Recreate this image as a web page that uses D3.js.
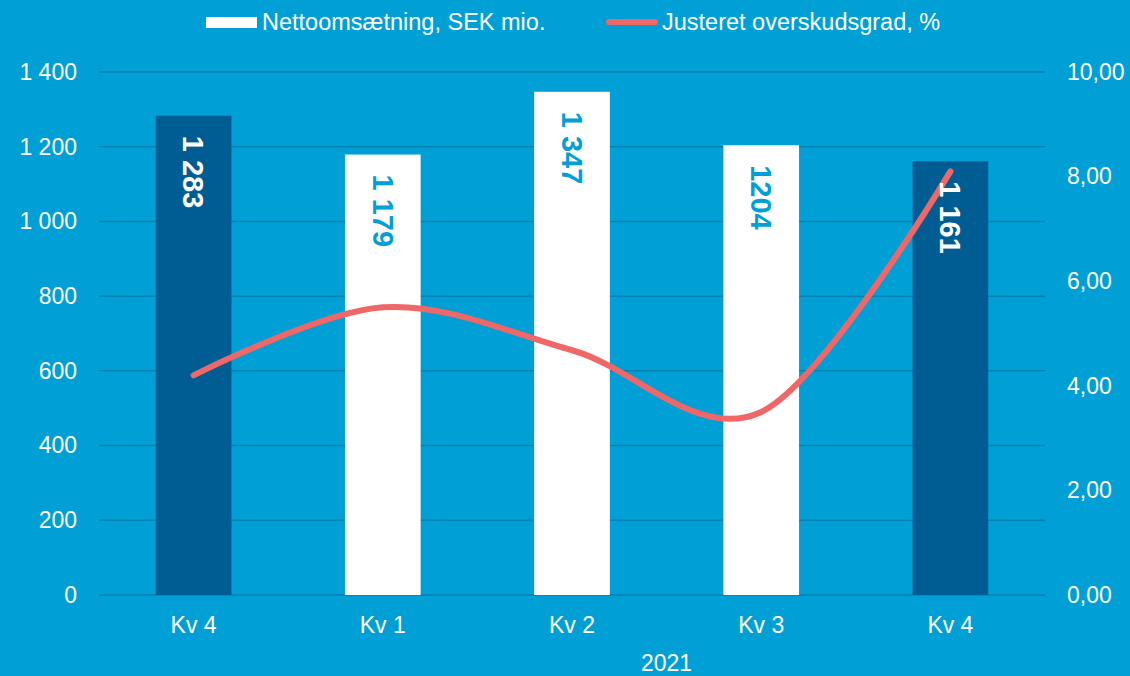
<!DOCTYPE html>
<html>
<head>
<meta charset="utf-8">
<script src="https://cdn.jsdelivr.net/npm/d3@7"></script>
<style>
  body { margin: 0; background: #00A0D6; }
  svg { display: block; font-family: "Liberation Sans", Arial, sans-serif; }
</style>
</head>
<body>
<div class="chart"></div>
<script>
// data
var quarters = ["Kv 4", "Kv 1", "Kv 2", "Kv 3", "Kv 4"];
var sales = [1283, 1179, 1347, 1204, 1161];
var salesLabels = ["1 283", "1 179", "1 347", "1204", "1 161"];
var margin_pct = [4.2, 5.5, 4.68, 3.5, 8.1];
var highlighted = [true, false, false, false, true];
var leftTicks = [0, 200, 400, 600, 800, 1000, 1200, 1400];
var rightTicks = [0, 2, 4, 6, 8, 10];
var yearLabel = "2021";
var seriesNames = ["Nettoomsætning, SEK mio.", "Justeret overskudsgrad, %"];

var width = 1130, height = 676;
var bg = "#00A0D6", dark = "#005D94", grid = "#0581AE", red = "#EF6767";
var plotL = 99, plotR = 1045, plotT = 72, plotB = 595;
var fs = 23;

var svg = d3.select(".chart").append("svg")
  .attr("width", width).attr("height", height);

svg.append("rect").attr("width", width).attr("height", height).attr("fill", bg);

var x = d3.scaleBand()
  .domain(quarters.map(function (d, i) { return i; }))
  .range([plotL, plotR])
  .paddingInner(0.6)
  .paddingOuter(0.3);

var y = d3.scaleLinear().domain([0, 1400]).range([plotB, plotT]);
var y2 = d3.scaleLinear().domain([0, 10]).range([plotB, plotT]);

// gridlines
svg.append("g").selectAll("line")
  .data(leftTicks)
  .enter().append("line")
    .attr("x1", plotL).attr("x2", plotR)
    .attr("y1", function (d) { return y(d); })
    .attr("y2", function (d) { return y(d); })
    .attr("stroke", grid).attr("stroke-width", 1.5);

// left axis
var yAxis = d3.axisLeft(y).tickValues(leftTicks).tickSize(0).tickPadding(0)
  .tickFormat(function (d) { return d3.format(",")(d).replace(",", " "); });
var gl = svg.append("g").attr("transform", "translate(77,0)").call(yAxis);
gl.select(".domain").remove();
gl.selectAll("text").attr("fill", "#fff").attr("font-size", fs).attr("font-family", "Liberation Sans, Arial, sans-serif");

// right axis
var yAxis2 = d3.axisRight(y2).tickValues(rightTicks).tickSize(0).tickPadding(0)
  .tickFormat(function (d) { return d3.format(".2f")(d).replace(".", ","); });
var gr = svg.append("g").attr("transform", "translate(1067,0)").call(yAxis2);
gr.select(".domain").remove();
gr.selectAll("text").attr("fill", "#fff").attr("font-size", fs).attr("font-family", "Liberation Sans, Arial, sans-serif");

// bars
svg.append("g").selectAll("rect")
  .data(sales)
  .enter().append("rect")
    .attr("x", function (d, i) { return x(i); })
    .attr("y", function (d) { return y(d); })
    .attr("width", x.bandwidth())
    .attr("height", function (d) { return plotB - y(d); })
    .attr("fill", function (d, i) { return highlighted[i] ? dark : "#fff"; });

// x labels
svg.append("g").selectAll("text")
  .data(quarters)
  .enter().append("text")
    .attr("x", function (d, i) { return x(i) + x.bandwidth() / 2; })
    .attr("y", 633)
    .attr("text-anchor", "middle")
    .attr("fill", "#fff").attr("font-size", fs)
    .text(function (d) { return d; });

svg.append("text")
  .attr("x", (x(1) + x(4) + x.bandwidth()) / 2)
  .attr("y", 671)
  .attr("text-anchor", "middle")
  .attr("fill", "#fff").attr("font-size", fs)
  .text(yearLabel);

// line
var line = d3.line()
  .x(function (d, i) { return x(i) + x.bandwidth() / 2; })
  .y(function (d) { return y2(d); })
  .curve(d3.curveCardinal.tension(0));

svg.append("path")
  .datum(margin_pct)
  .attr("d", line)
  .attr("fill", "none")
  .attr("stroke", red)
  .attr("stroke-width", 6)
  .attr("stroke-linecap", "round");

// value labels (rotated)
svg.append("g").selectAll("text")
  .data(sales)
  .enter().append("text")
    .attr("transform", function (d, i) {
      return "translate(" + (x(i) + x.bandwidth() / 2) + "," + (y(d) + 20) + ") rotate(90)";
    })
    .attr("dy", "0.35em")
    .attr("fill", function (d, i) { return highlighted[i] ? "#fff" : bg; })
    .attr("font-size", 29).attr("font-weight", "bold")
    .text(function (d, i) { return salesLabels[i]; });

// legend
var lg = svg.append("g");
lg.append("rect").attr("x", 206).attr("y", 17).attr("width", 51).attr("height", 11).attr("fill", "#fff");
lg.append("text").attr("x", 262).attr("y", 30).attr("fill", "#fff").attr("font-size", 23.5).text(seriesNames[0]);
lg.append("line").attr("x1", 609).attr("x2", 655).attr("y1", 22).attr("y2", 22)
  .attr("stroke", red).attr("stroke-width", 6).attr("stroke-linecap", "round");
lg.append("text").attr("x", 662).attr("y", 30).attr("fill", "#fff").attr("font-size", 23.5).text(seriesNames[1]);
</script>
</body>
</html>
